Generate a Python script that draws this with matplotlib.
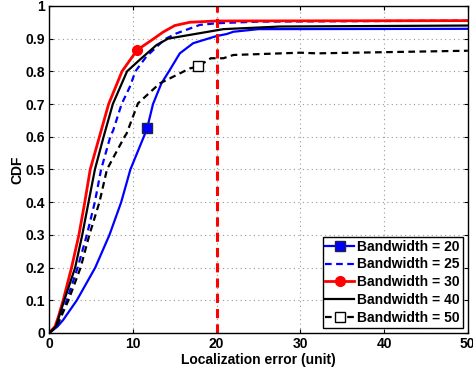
import matplotlib
matplotlib.use("Agg")
import matplotlib.pyplot as plt

plt.rcParams['font.family'] = ['Liberation Sans', 'DejaVu Sans']
plt.rcParams['font.weight'] = 'bold'

# Bandwidth = 20 (blue solid, filled square)
bw20_x = [0, 1.0, 1.67, 3.3, 5.5, 7.2, 8.6, 9.7, 11.3, 11.7, 12.4, 13.4, 14.4, 15.6, 17.2, 20.0, 21.2, 22.0, 25.0, 50.0]
bw20_y = [0, 0.02, 0.04, 0.10, 0.20, 0.30, 0.40, 0.50, 0.60, 0.626, 0.70, 0.763, 0.804, 0.855, 0.886, 0.908, 0.914, 0.921, 0.929, 0.930]
bw20_mark = 9

# Bandwidth = 25 (blue dashed)
bw25_x = [0, 0.9, 2.1, 3.4, 4.5, 5.45, 6.2, 7.3, 7.65, 8.65, 9.64, 10.3, 11.6, 13.8, 15.2, 18.0, 20.0, 25.0, 50.0]
bw25_y = [0, 0.02, 0.10, 0.20, 0.30, 0.40, 0.50, 0.60, 0.62, 0.70, 0.753, 0.80, 0.845, 0.898, 0.916, 0.942, 0.947, 0.952, 0.955]

# Bandwidth = 30 (red solid, filled circle)
bw30_x = [0, 0.7, 1.1, 1.67, 2.67, 3.55, 4.25, 4.9, 6.0, 7.1, 8.7, 10.5, 12.5, 13.6, 15.0, 16.8, 20.0, 50.0]
bw30_y = [0, 0.02, 0.05, 0.10, 0.20, 0.30, 0.40, 0.50, 0.60, 0.70, 0.80, 0.865, 0.90, 0.92, 0.94, 0.95, 0.954, 0.955]
bw30_mark = 11

# Bandwidth = 40 (black solid)
bw40_x = [0, 0.8, 1.8, 3.1, 3.95, 4.7, 5.46, 6.5, 7.6, 9.3, 10.8, 12.8, 14.2, 20.8, 27.6, 50.0]
bw40_y = [0, 0.02, 0.10, 0.20, 0.30, 0.40, 0.50, 0.60, 0.70, 0.80, 0.835, 0.88, 0.90, 0.929, 0.937, 0.940]

# Bandwidth = 50 (black dashed, open square)
bw50_x = [0, 0.9, 2.3, 3.75, 4.8, 6.0, 6.9, 9.0, 9.25, 10.6, 13.2, 16.8, 17.8, 19.3, 20.8, 22.0, 30.0, 32.0, 50.0]
bw50_y = [0, 0.02, 0.10, 0.20, 0.30, 0.40, 0.50, 0.60, 0.61, 0.702, 0.763, 0.809, 0.815, 0.84, 0.84, 0.85, 0.857, 0.855, 0.863]
bw50_mark = 12

labels = ['Bandwidth = 20', 'Bandwidth = 25', 'Bandwidth = 30', 'Bandwidth = 40', 'Bandwidth = 50']
threshold = 20

fs = 10
fig = plt.figure(figsize=(4.73, 3.70), dpi=100)
ax = fig.add_axes([0.104, 0.100, 0.885, 0.884])

lw = 1.6
ax.plot(bw20_x, bw20_y, '-', color='#0000ff', lw=lw, marker='s', markevery=[bw20_mark],
        ms=7, mfc='#0000ff', mec='#222244', mew=1.0, label=labels[0])
ax.plot(bw25_x, bw25_y, '--', color='#0000ff', lw=lw, dashes=(3, 2), label=labels[1])
ax.plot(bw30_x, bw30_y, '-', color='#ff0000', lw=2.0, marker='o', markevery=[bw30_mark],
        ms=7, mfc='#ff0000', mec='#ff0000', label=labels[2])
ax.plot(bw40_x, bw40_y, '-', color='black', lw=lw, label=labels[3])
ax.plot(bw50_x, bw50_y, '--', color='black', lw=lw, dashes=(3, 2), marker='s', markevery=[bw50_mark],
        ms=7, mfc='white', mec='black', mew=1.0, label=labels[4])

ax.axvline(threshold, color='#ff0000', lw=2.2, ls=(0, (3, 2)))

ax.set_xlim(0, 50)
ax.set_ylim(0, 1)
ax.set_xticks([0, 10, 20, 30, 40, 50])
ax.set_yticks([i / 10 for i in range(11)])
ax.set_yticklabels(['0', '0.1', '0.2', '0.3', '0.4', '0.5', '0.6', '0.7', '0.8', '0.9', '1'])
ax.grid(True, ls=(0, (1, 3)), color='#999999', lw=0.8)
ax.tick_params(direction='in', top=True, right=True, length=3, labelsize=fs, pad=3)
for t in ax.get_xticklabels() + ax.get_yticklabels():
    t.set_fontweight('bold')
for s in ax.spines.values():
    s.set_linewidth(1.0)

ax.set_xlabel('Localization error (unit)', fontsize=fs, fontweight='bold', labelpad=1)
ax.set_ylabel('CDF', fontsize=fs, fontweight='bold', labelpad=1)

leg = ax.legend(loc='lower right', fontsize=fs, frameon=True, fancybox=False,
                edgecolor='black', framealpha=1, handlelength=2.1, handletextpad=0.2,
                labelspacing=0.28, borderpad=0.2, borderaxespad=0.37)
leg.get_frame().set_linewidth(1.0)
for t in leg.get_texts():
    t.set_fontweight('bold')

fig.savefig('out.png', dpi=100)
